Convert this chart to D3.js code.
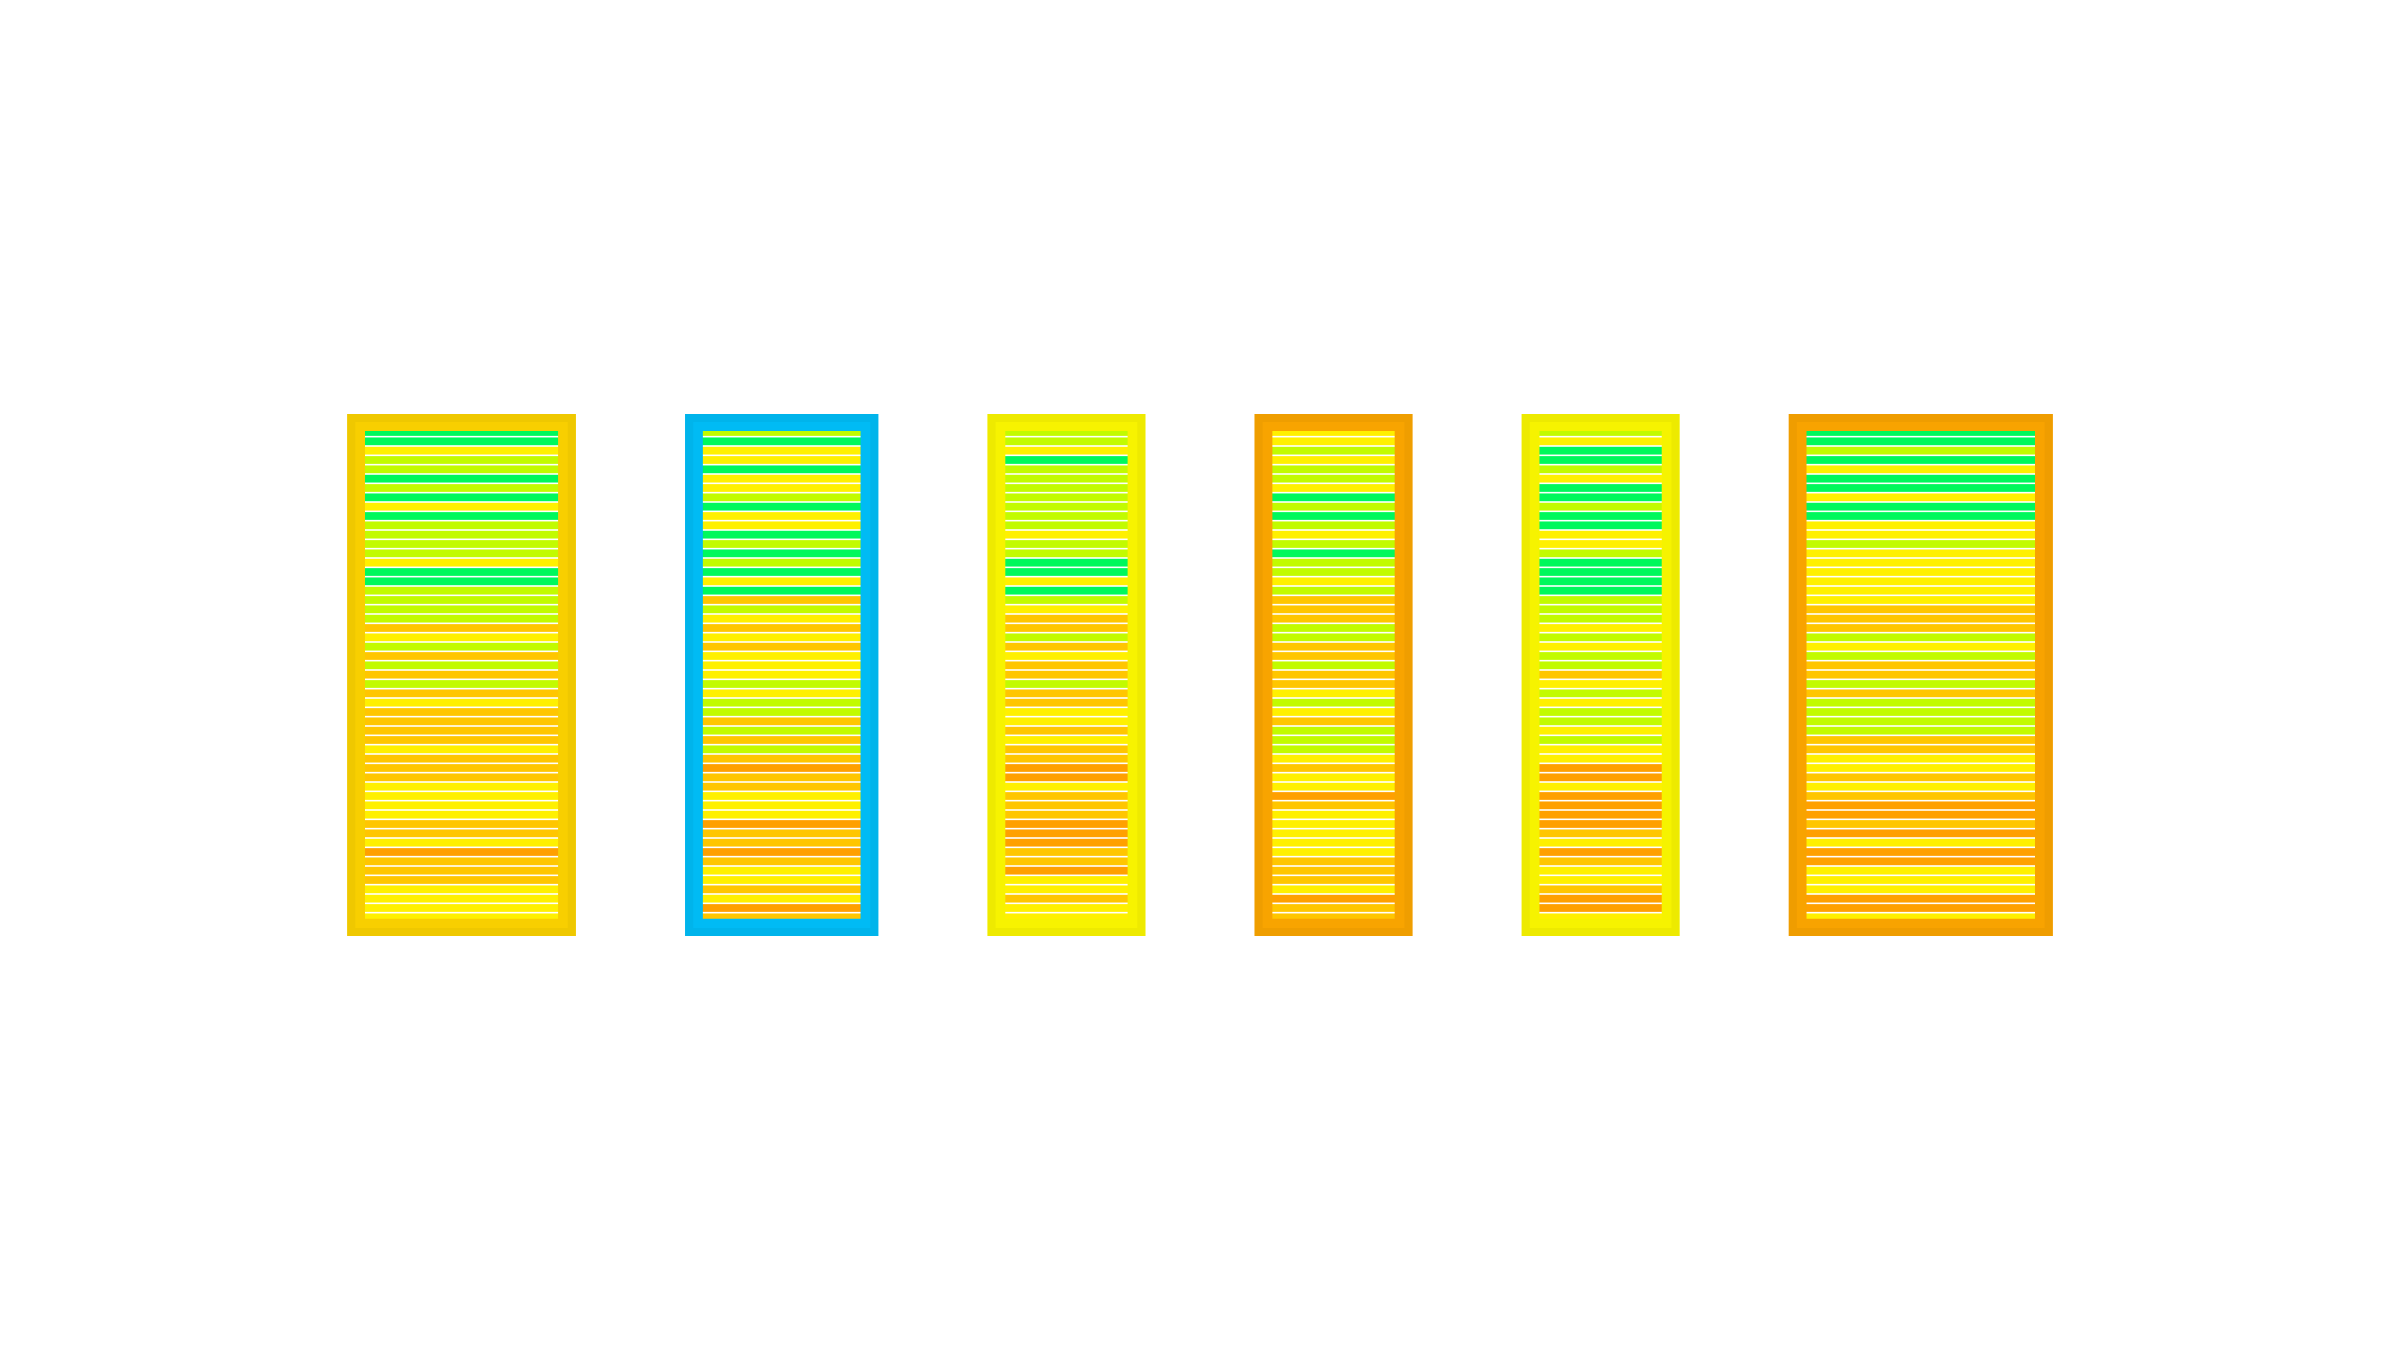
<!DOCTYPE html>
<html><head><meta charset="utf-8">
<script src="https://cdn.jsdelivr.net/npm/d3@7"></script>
<style>html,body{margin:0;background:#fff}svg{display:block}</style>
</head><body><div id="c"></div>
<script>
// level: 0 dark orange, 1 amber, 2 yellow, 3 lime, 4 green
const levels = [0,1,2,3,4];
const levelColors = ["#ffa000","#ffc600","#fff000","#c2fb00","#00f85c"];
const panelCols = [6,5,4,4,4,7];
const borderColors = ["#f8cf00","#00bbf4","#f7f300","#f8a400","#f6f300","#f8a300"];
const rows1 = [4,4,2,3,3,4,3,4,2,4,3,3,3,3,2,4,4,3,3,3,3,1,2,3,1,3,1,3,1,2,1,1,1,1,2,1,1,1,2,2,2,2,1,1,2,0,1,1,1,2,2,2,2];
const rows2 = [3,4,2,2,4,2,2,3,4,2,2,4,3,4,3,4,2,4,1,3,2,1,2,1,2,2,2,3,2,3,3,1,3,1,3,1,0,1,1,2,2,2,0,1,1,0,1,2,2,1,2,0,1];
const rows3 = [3,3,2,4,3,3,3,3,3,3,3,2,3,3,4,4,2,4,3,2,1,1,3,1,2,1,1,3,1,1,2,2,1,2,1,1,0,0,2,1,1,1,0,0,0,1,1,0,2,2,1,2,2];
const rows4 = [2,2,3,2,3,3,2,4,3,4,3,2,3,4,3,3,2,3,1,1,1,3,3,1,1,3,1,1,2,3,2,1,3,3,3,2,1,2,2,0,1,2,2,2,2,2,1,1,1,2,0,1,1];
const rows5 = [3,2,4,4,3,2,4,4,3,4,4,2,2,3,4,4,4,4,3,3,3,2,3,2,3,3,1,2,3,2,3,3,2,3,2,2,0,0,2,0,0,0,0,1,2,0,1,2,2,1,0,0,2];
const rows6 = [4,4,3,4,2,4,4,2,4,4,2,2,3,2,2,2,2,2,2,1,1,1,3,2,3,1,1,3,1,3,3,3,3,1,1,2,2,1,2,1,0,0,1,0,2,0,0,2,2,2,0,0,2];
const panelRows = [rows1,rows2,rows3,rows4,rows5,rows6];

const W=2400,H=1350;
const svg=d3.select("#c").append("svg").attr("width",W).attr("height",H);
const defs=svg.append("defs");
defs.append("filter").attr("id","soft").attr("x","-2%").attr("y","-2%").attr("width","104%").attr("height","104%")
  .append("feGaussianBlur").attr("stdDeviation",0.5);
svg.append("rect").attr("width",W).attr("height",H).attr("fill","#fff");

const frameUnits=0.455, gapUnits=3.09;
const totalUnits=d3.sum(panelCols)+panelCols.length*frameUnits+(panelCols.length-1)*gapUnits;
const x=d3.scaleLinear().domain([0,totalUnits]).range([347.3,2052.7]);
const y=d3.scaleBand().domain(d3.range(rows1.length)).range([427.33,922]).paddingInner(0.17).paddingOuter(0.085);
const color=d3.scaleOrdinal().domain(levels).range(levelColors);

const frameTop=414,frameBottom=936,bw=17.7,innerTop=431,innerBottom=918.67;
const ring=(a,t,b,c,ia,it,ib,ic)=>`M${a},${t}H${b}V${c}H${a}ZM${ia},${it}H${ib}V${ic}H${ia}Z`;
const root=svg.append("g").attr("filter","url(#soft)");
let cursor=0;
panelCols.forEach((cols,i)=>{
  const x0=x(cursor),x1=x(cursor+cols+frameUnits);
  cursor+=cols+frameUnits+gapUnits;
  const g=root.append("g");
  const base=d3.color(borderColors[i]);
  g.append("g").selectAll("rect").data(panelRows[i]).join("rect")
    .attr("x",x0+bw-2).attr("width",x1-x0-2*bw+4)
    .attr("y",(d,k)=>y(k)).attr("height",y.bandwidth())
    .attr("fill",d=>color(d));
  g.append("path").attr("fill-rule","evenodd").attr("fill",base.formatHex())
    .attr("d",ring(x0,frameTop,x1,frameBottom,x0+bw,innerTop,x1-bw,innerBottom));
  g.append("path").attr("fill-rule","evenodd").attr("fill",base.darker(0.1).formatHex())
    .attr("d",ring(x0,frameTop,x1,frameBottom,x0+8,frameTop+8,x1-8,frameBottom-8));
});
</script></body></html>
